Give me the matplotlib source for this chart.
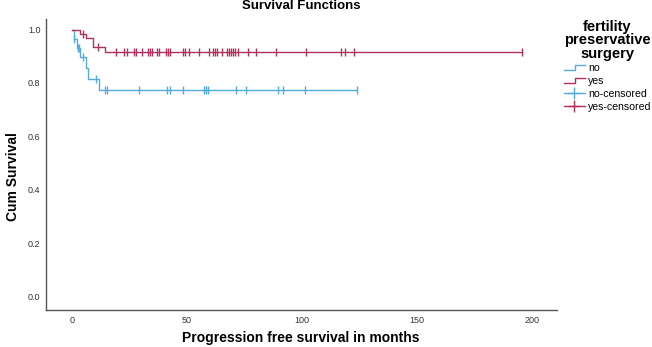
import numpy as np
import matplotlib
matplotlib.use("Agg")
import matplotlib.pyplot as plt
from matplotlib.lines import Line2D
from matplotlib.legend_handler import HandlerBase

plt.rcParams['font.family'] = ['Liberation Sans', 'DejaVu Sans']

# Kaplan-Meier steps
NO_TIMES = [0, 0.7, 2.2, 3.6, 6.0, 7.1, 11.8, 124.0]
NO_SURV = [1.0, 0.966, 0.931, 0.897, 0.856, 0.816, 0.772, 0.772]
YES_TIMES = [0, 3.6, 6.0, 9.0, 14.3, 195.5]
YES_SURV = [1.0, 0.984, 0.968, 0.936, 0.917, 0.917]

# censored observations (months)
NO_CENSORED = [0.8, 2.6, 3.2, 4.7, 10.3, 14.2, 15.1, 29.3, 41.3, 42.7, 48.2,
               57.6, 58.4, 59.1, 71.5, 75.5, 89.6, 91.6, 101.5, 124.0]
YES_CENSORED = [4.7, 11.3, 19.0, 22.4, 24.1, 27.1, 28.0, 30.4, 33.2, 34.1, 34.9,
                37.0, 37.9, 40.8, 41.7, 42.6, 48.3, 49.2, 50.7, 55.3, 59.4,
                61.1, 62.0, 63.0, 65.2, 67.4, 68.3, 69.1, 70.0, 71.0, 72.0,
                76.6, 79.9, 88.8, 101.6, 116.9, 118.8, 122.7, 195.5]

BLUE = '#55aae0'
RED = '#b2305c'


def level_at(times, surv, t):
    idx = np.searchsorted(times, t, side='right') - 1
    return np.array(surv)[idx]


class StepHandler(HandlerBase):
    def create_artists(self, legend, orig_handle, xdescent, ydescent,
                       width, height, fontsize, trans):
        x0, x1 = -xdescent, -xdescent + width
        xm = x0 + 0.55 * width
        ylo, yhi = -ydescent + 0.15 * height, -ydescent + 0.85 * height
        line = Line2D([x0, xm, xm, x1], [ylo, ylo, yhi, yhi],
                      color=orig_handle.get_color(), lw=1.0, transform=trans)
        return [line]


fig = plt.figure(figsize=(6.52, 3.47), dpi=100)
ax = fig.add_axes([0.0706, 0.1066, 0.784, 0.839])

ax.step(NO_TIMES, NO_SURV, where='post', color=BLUE, lw=1.0)
ax.step(YES_TIMES, YES_SURV, where='post', color=RED, lw=1.0)
ax.plot(NO_CENSORED, level_at(NO_TIMES, NO_SURV, NO_CENSORED), ls='none',
        marker='|', ms=6, mew=1.0, color=BLUE)
ax.plot(YES_CENSORED, level_at(YES_TIMES, YES_SURV, YES_CENSORED), ls='none',
        marker='|', ms=6, mew=1.0, color=RED)

ax.set_xlim(-11.3, 211)
ax.set_ylim(-0.05, 1.04)
ax.set_xticks([0, 50, 100, 150, 200])
ax.set_yticks([0.0, 0.2, 0.4, 0.6, 0.8, 1.0])
ax.set_yticklabels(['0.0', '0.2', '0.4', '0.6', '0.8', '1.0'])
ax.tick_params(axis='x', length=0, labelsize=6.5, colors='#333333', pad=4)
ax.tick_params(axis='y', length=0, labelsize=6.5, colors='#333333', pad=4)
for s in ['top', 'right']:
    ax.spines[s].set_visible(False)
for s in ['left', 'bottom']:
    ax.spines[s].set_color('#555555')
    ax.spines[s].set_linewidth(1.0)

fig.text(0.462, 0.025, 'Progression free survival in months', fontsize=10,
         fontweight='bold', ha='center', va='center')
fig.text(0.02, 0.49, 'Cum Survival', fontsize=10, fontweight='bold',
         rotation=90, ha='center', va='center')
fig.text(0.462, 0.982, 'Survival Functions', fontsize=9.5, fontweight='bold',
         ha='center', va='center')

h_no = Line2D([], [], color=BLUE)
h_yes = Line2D([], [], color=RED)
h_noc = Line2D([], [], color=BLUE, marker='+', ms=9, lw=1.0)
h_yesc = Line2D([], [], color=RED, marker='+', ms=9, lw=1.0)
leg = fig.legend([h_no, h_yes, h_noc, h_yesc],
                 ['no', 'yes', 'no-censored', 'yes-censored'],
                 handler_map={h_no: StepHandler(), h_yes: StepHandler()},
                 title='fertility\npreservative\nsurgery',
                 loc='upper left', bbox_to_anchor=(0.858, 0.955),
                 frameon=False, fontsize=7.6, handlelength=2.0,
                 handletextpad=0.3, labelspacing=0.26, borderaxespad=0)
leg.get_title().set_fontweight('bold')
leg.get_title().set_fontsize(10.5)
leg.get_title().set_multialignment('center')
leg.get_title().set_linespacing(0.95)
leg._legend_box.align = 'left'

fig.savefig('out.png', dpi=100)
